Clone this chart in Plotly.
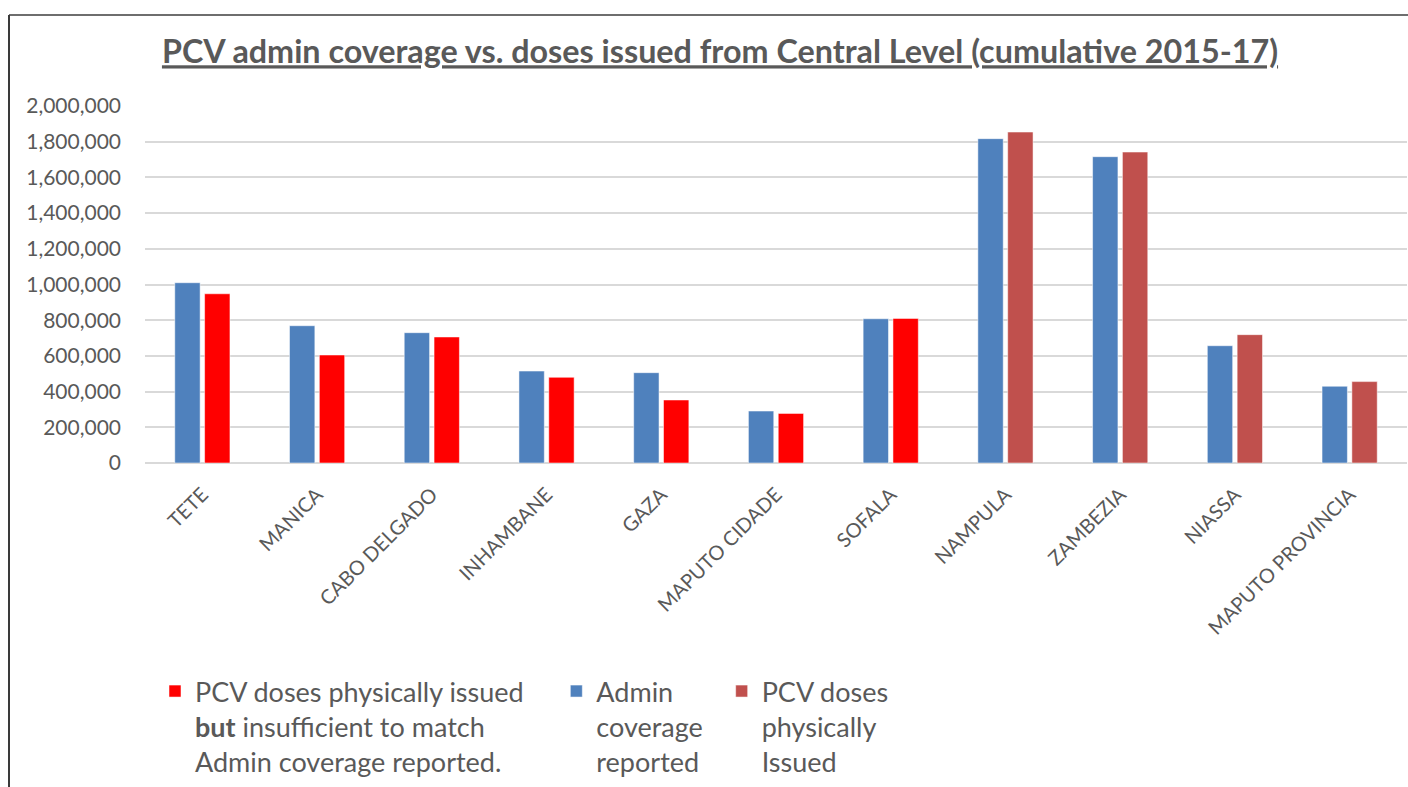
import plotly.graph_objects as go

# Provinces and cumulative 2015-17 values
provinces = ["TETE", "MANICA", "CABO DELGADO", "INHAMBANE", "GAZA", "MAPUTO CIDADE",
             "SOFALA", "NAMPULA", "ZAMBEZIA", "NIASSA", "MAPUTO PROVINCIA"]
admin_coverage = [1010000, 769000, 730000, 515000, 506000, 291000,
                  808000, 1817000, 1716000, 657000, 430000]
issued_insufficient = [948000, 605000, 706000, 480000, 353000, 278000,
                       810000, None, None, None, None]
issued_sufficient = [None, None, None, None, None, None,
                     None, 1854000, 1742000, 719000, 456000]
y_ticks = [0, 200000, 400000, 600000, 800000, 1000000, 1200000,
           1400000, 1600000, 1800000, 2000000]

TEXT = "#595959"
FONT = "Lato"
EDGE = dict(color="rgba(255,255,255,0.5)", width=1)
NB = "\u00a0"

fig = go.Figure()
fig.add_trace(go.Bar(
    x=provinces, y=admin_coverage, offsetgroup="admin",
    name="Admin<br>coverage" + NB * 2 + "<br>reported",
    marker=dict(color="#4F81BD", line=EDGE), legendrank=2,
))
fig.add_trace(go.Bar(
    x=provinces, y=issued_insufficient, offsetgroup="issued",
    name="PCV doses physically issued" + NB * 4
         + "<br><b>but</b> insufficient to match<br>Admin coverage reported.",
    marker=dict(color="#FF0000", line=EDGE), legendrank=1,
))
fig.add_trace(go.Bar(
    x=provinces, y=issued_sufficient, offsetgroup="issued",
    name="PCV doses<br>physically<br>Issued",
    marker=dict(color="#C0504D", line=EDGE), legendrank=3,
))

W, H = 1408, 787
L, R, T, B = 145, 1, 106, 324
pw, ph = W - L - R, H - T - B

def px_x(x):
    return (x - L) / pw

def px_y(y):
    return (H - B - y) / ph

fig.update_layout(
    width=W, height=H,
    margin=dict(l=L, r=R, t=T, b=B, autoexpand=False),
    paper_bgcolor="white", plot_bgcolor="white",
    barmode="group", bargap=0.48, bargroupgap=0.15,
    font=dict(family=FONT, color=TEXT, size=18),
    title=dict(
        text="<u><b>PCV admin coverage vs. doses issued from Central Level (cumulative 2015-17)</b></u>",
        x=720 / W, xanchor="center", y=1 - 52 / H, yanchor="middle",
        font=dict(family=FONT, size=32.3, color=TEXT),
    ),
    xaxis=dict(
        tickangle=-45, tickfont=dict(size=20, color=TEXT),
        showgrid=False, showline=False, ticks="", ticklabelstandoff=15,
    ),
    yaxis=dict(
        range=[0, 2000000], tickvals=y_ticks, tickformat=",",
        tickfont=dict(size=21, color=TEXT),
        showgrid=True, gridcolor="#D9D9D9", gridwidth=1.5,
        zeroline=True, zerolinecolor="#D9D9D9", zerolinewidth=1.5,
        showline=False, ticks="", ticklabelstandoff=23,
    ),
    legend=dict(
        orientation="h", x=px_x(155), xanchor="left",
        y=px_y(667), yanchor="top", valign="top",
        font=dict(size=27, color=TEXT, family=FONT),
        traceorder="normal", bgcolor="rgba(0,0,0,0)",
    ),
    showlegend=True,
    shapes=[
        dict(type="line", xref="paper", yref="paper",
             x0=px_x(9), x1=px_x(W), y0=px_y(15), y1=px_y(15),
             line=dict(color="#6E6E6E", width=2)),
        dict(type="line", xref="paper", yref="paper",
             x0=px_x(9), x1=px_x(9), y0=px_y(15), y1=px_y(H),
             line=dict(color="#3A3A3A", width=2)),
    ],
)

fig.write_html("out.html")
